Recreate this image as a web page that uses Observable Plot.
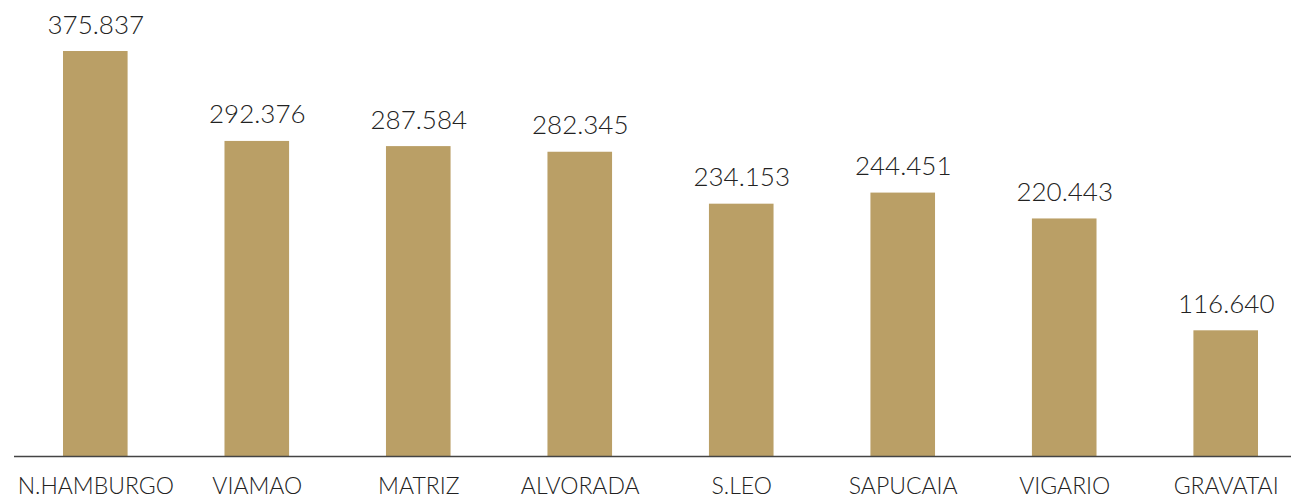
<!DOCTYPE html>
<html>
<head>
<meta charset="utf-8">
<script src="https://cdn.jsdelivr.net/npm/d3@7"></script>
<script src="https://cdn.jsdelivr.net/npm/@observablehq/plot@0.6"></script>
<style>
  html, body { margin: 0; padding: 0; background: #fff; overflow: hidden; }
  #chart svg { display: block; overflow: hidden; }
</style>
</head>
<body>
<div id="chart"></div>
<script>
const categories = ["N.HAMBURGO", "VIAMAO", "MATRIZ", "ALVORADA", "S.LEO", "SAPUCAIA", "VIGARIO", "GRAVATAI"];
const values = [375837, 292376, 287584, 282345, 234153, 244451, 220443, 116640];

const data = categories.map((c, i) => ({category: c, value: values[i]}));
const fmt = v => d3.format(",")(v).replace(/,/g, ".");
const font = "Lato, 'Open Sans', sans-serif";

const chart = Plot.plot({
  width: 1291,
  height: 499,
  marginLeft: 14,
  marginRight: 0,
  marginTop: 0,
  marginBottom: 43,
  style: {background: "#fff", fontFamily: font},
  x: {domain: categories, range: [63, 1258], paddingInner: 0.6, paddingOuter: 0, round: false, axis: null},
  y: {domain: [0, 375837], range: [456, 51], axis: null},
  marks: [
    Plot.barY(data, {x: "category", y: "value", fill: "#BA9F66"}),
    Plot.ruleY([0], {stroke: "#444", strokeWidth: 1.6}),
    Plot.text(data, {
      x: "category", y: "value", text: d => fmt(d.value),
      lineAnchor: "bottom", dy: -18, fontSize: 26, fontWeight: 300,
      fill: "#222", fontFamily: font
    }),
    Plot.text(data, {
      x: "category", y: () => 0, text: "category",
      lineAnchor: "bottom", dy: 37, fontSize: 23, fontWeight: 300,
      fill: "#222", fontFamily: font
    })
  ]
});
document.getElementById("chart").appendChild(chart);
</script>
</body>
</html>
